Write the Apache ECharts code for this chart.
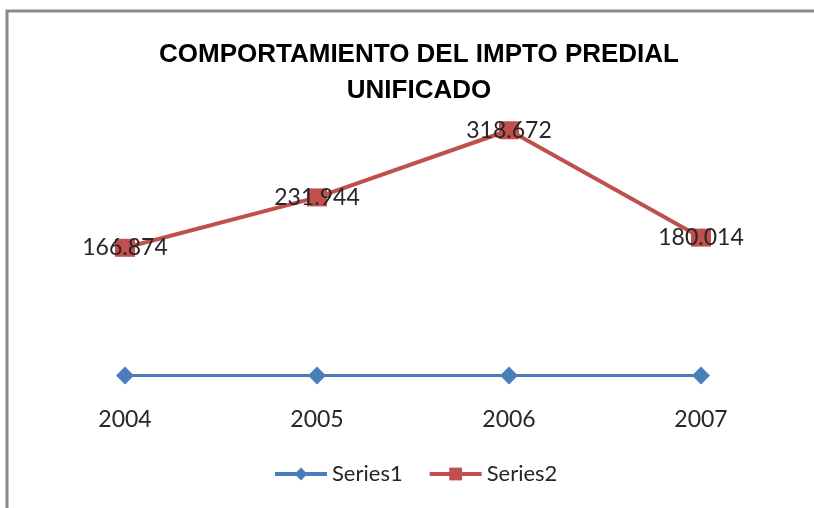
<!DOCTYPE html>
<html>
<head>
<meta charset="utf-8">
<script src="https://cdn.jsdelivr.net/npm/echarts@6/dist/echarts.min.js"></script>
<style>
html,body{margin:0;padding:0;background:#fff;}
#c{width:814px;height:508px;}
</style>
</head>
<body>
<div id="c"></div>
<script>
const categories = ['2004', '2005', '2006', '2007'];
const series1 = [2004, 2005, 2006, 2007];
const series2 = [166874, 231944, 318672, 180014];
const seriesNames = ['Series1', 'Series2'];
const titleText = 'COMPORTAMIENTO DEL IMPTO PREDIAL\nUNIFICADO';

function fmt(v) {
  return String(v).replace(/\B(?=(\d{3})+(?!\d))/g, '.');
}

const chart = echarts.init(document.getElementById('c'));
const font = 'Lato, "Open Sans", sans-serif';
chart.setOption({
  animation: false,
  backgroundColor: '#fff',
  title: {
    text: titleText,
    left: 414,
    textAlign: 'center',
    top: 32,
    textStyle: {
      fontFamily: '"Liberation Sans", sans-serif',
      fontWeight: 'bold',
      fontSize: 26,
      lineHeight: 36,
      color: '#000'
    }
  },
  graphic: [{
    type: 'polyline',
    shape: { points: [[7, 508], [7, 11], [814, 11]] },
    style: { stroke: '#8a8a8a', lineWidth: 3, fill: null },
    silent: true
  }],
  legend: {
    left: 273,
    top: 463,
    padding: 0,
    itemWidth: 52,
    itemHeight: 16,
    itemGap: 25,
    textStyle: { fontFamily: font, fontSize: 22, color: '#262626' },
    lineStyle: { width: 4 },
    data: seriesNames
  },
  grid: { left: 29, right: 17, top: 106, bottom: 131, containLabel: false },
  xAxis: {
    type: 'category',
    data: categories,
    boundaryGap: true,
    axisLine: { show: false },
    axisTick: { show: false },
    axisLabel: { margin: 31, fontFamily: font, fontSize: 23, color: '#262626' },
    splitLine: { show: false }
  },
  yAxis: {
    type: 'value',
    min: 0,
    max: 350000,
    show: false
  },
  series: [
    {
      name: seriesNames[0],
      type: 'line',
      data: series1,
      symbol: 'diamond',
      symbolSize: 18,
      lineStyle: { color: '#4A7EBB', width: 3 },
      itemStyle: { color: '#4A7EBB' },
      label: { show: false }
    },
    {
      name: seriesNames[1],
      type: 'line',
      data: series2,
      symbol: 'rect',
      symbolSize: [20, 18],
      lineStyle: { color: '#C0504D', width: 4 },
      itemStyle: { color: '#C0504D' },
      label: {
        show: true,
        position: 'inside',
        fontFamily: font,
        fontSize: 23,
        color: '#262626',
        formatter: p => fmt(p.value)
      }
    }
  ]
});
</script>
</body>
</html>
